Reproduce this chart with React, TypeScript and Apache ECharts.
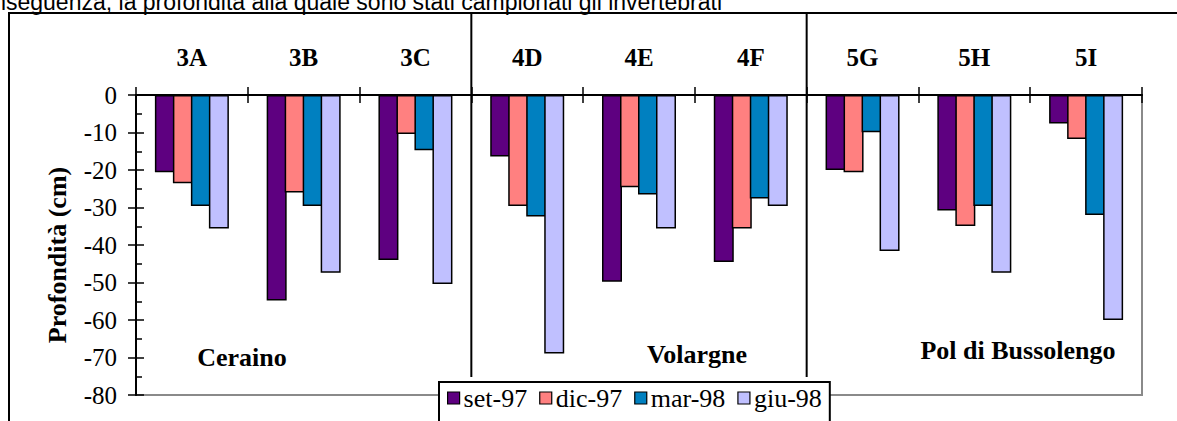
import React, { useEffect, useRef } from "react";
import * as echarts from "echarts";

const categories = ["3A", "3B", "3C", "4D", "4E", "4F", "5G", "5H", "5I"];
const seriesNames = ["set-97", "dic-97", "mar-98", "giu-98"];
const set97 = [-20.6, -54.8, -44.0, -16.4, -49.8, -44.5, -20.0, -30.8, -7.6];
const dic97 = [-23.5, -26.0, -10.4, -29.6, -24.6, -35.6, -20.6, -34.9, -11.7];
const mar98 = [-29.6, -29.6, -14.7, -32.4, -26.5, -27.6, -9.9, -29.6, -32.0];
const giu98 = [-35.6, -47.4, -50.4, -68.9, -35.6, -29.6, -41.6, -47.4, -60.0];
const colors = ["#5E0080", "#FF8080", "#0080C0", "#C0C0FF"];
const regionLabels = ["Ceraino", "Volargne", "Pol di Bussolengo"];
const yMin = -80;
const yMax = 0;
const yInterval = 10;
const axisName = "Profondità (cm)";
const topText = "conseguenza, la profondità alla quale sono stati campionati gli invertebrati";

const SERIF = '"Liberation Serif", "Times New Roman", serif';
const SANS = '"Liberation Sans", Arial, sans-serif';

export default function App() {
  const ref = useRef<HTMLDivElement>(null);
  useEffect(() => {
    if (!ref.current) return;
    const chart = echarts.init(ref.current, null, { renderer: "svg" });
    const values = [set97, dic97, mar98, giu98];
    chart.setOption({
      animation: false,
      grid: {
        left: 136,
        right: 35,
        top: 95,
        bottom: 26,
        show: true,
        borderColor: "#8a8a8a",
        borderWidth: 2,
        backgroundColor: "transparent",
      },
      xAxis: [
        {
          type: "category",
          data: categories,
          position: "top",
          axisLine: { onZero: false, lineStyle: { color: "#000", width: 2 } },
          axisTick: { show: true, inside: false, length: 8, lineStyle: { color: "#000", width: 1.5 } },
          axisLabel: {
            margin: 38,
            verticalAlign: "middle",
            color: "#000",
            fontFamily: SERIF,
            fontWeight: "bold",
            fontSize: 25,
          },
          splitLine: { show: false },
        },
        {
          type: "category",
          data: categories,
          position: "top",
          axisLine: { show: false, onZero: false },
          axisTick: { show: true, inside: true, length: 8, lineStyle: { color: "#000", width: 1.5 } },
          axisLabel: { show: false },
          splitLine: { show: false },
        },
      ],
      yAxis: [
        {
          type: "value",
          min: yMin,
          max: yMax,
          interval: yInterval,
          position: "left",
          axisLine: { show: true, onZero: false, lineStyle: { color: "#000", width: 2 } },
          axisTick: { show: true, inside: false, length: 8, lineStyle: { color: "#000", width: 1.5 } },
          axisLabel: {
            margin: 19,
            color: "#000",
            fontFamily: SERIF,
            fontSize: 25,
            verticalAlign: "middle",
          },
          splitLine: { show: false },
        },
        {
          type: "value",
          min: yMin,
          max: yMax,
          interval: yInterval,
          position: "left",
          axisLine: { show: false, onZero: false },
          axisTick: { show: true, inside: true, length: 8, lineStyle: { color: "#000", width: 1.5 } },
          minorTick: { show: true, splitNumber: 2, length: 6, lineStyle: { color: "#000", width: 1.5 } },
          axisLabel: { show: false },
          splitLine: { show: false },
        },
      ],
      legend: {
        data: seriesNames,
        left: 439,
        top: 382,
        orient: "horizontal",
        padding: [3, 8, 14, 8],
        itemGap: 12,
        itemWidth: 12,
        itemHeight: 12,
        icon: "rect",
        backgroundColor: "#fff",
        borderColor: "#000",
        borderWidth: 2,
        itemStyle: { borderColor: "#000", borderWidth: 1.2 },
        textStyle: { color: "#000", fontFamily: SERIF, fontSize: 26, padding: [0, 0, 0, -1] },
      },
      series: seriesNames.map((name, i) => ({
        name,
        type: "bar",
        xAxisIndex: 0,
        yAxisIndex: 0,
        data: values[i],
        barWidth: 20,
        barGap: "-10%",
        itemStyle: { color: colors[i], borderColor: "#000", borderWidth: 1.5 },
      })),
    });

    const px = (i: number) => chart.convertToPixel({ xAxisIndex: 0 }, categories[i]) as number;
    const sep1 = (px(2) + px(3)) / 2;
    const sep2 = (px(5) + px(6)) / 2;

    const label = (text: string, x: number, y: number) => ({
      type: "text",
      x,
      y,
      style: {
        text,
        fill: "#000",
        font: `bold 26px ${SERIF}`,
        textAlign: "center",
        textVerticalAlign: "middle",
      },
    });

    chart.setOption({
      graphic: [
        {
          type: "rect",
          z: 0,
          shape: { x: 9, y: 13, width: 1400, height: 800 },
          style: { fill: "none", stroke: "#000", lineWidth: 2 },
        },
        {
          type: "text",
          x: 722,
          y: 2,
          style: {
            text: topText,
            fill: "#000",
            font: `23px ${SANS}`,
            textAlign: "right",
            textVerticalAlign: "middle",
          },
        },
        {
          type: "line",
          shape: { x1: sep1, y1: 14, x2: sep1, y2: 377 },
          style: { stroke: "#000", lineWidth: 2 },
        },
        {
          type: "line",
          shape: { x1: sep2, y1: 14, x2: sep2, y2: 377 },
          style: { stroke: "#000", lineWidth: 2 },
        },
        {
          type: "text",
          x: 57,
          y: 255,
          rotation: Math.PI / 2,
          style: {
            text: axisName,
            fill: "#000",
            font: `bold 26px ${SERIF}`,
            textAlign: "center",
            textVerticalAlign: "middle",
          },
        },
        label(regionLabels[0], 242, 357),
        label(regionLabels[1], 697, 354),
        label(regionLabels[2], 1018, 350),
      ],
    });

    return () => chart.dispose();
  }, []);

  return (
    <div
      ref={ref}
      style={{ position: "absolute", left: 0, top: 0, width: 1177, height: 421, background: "#fff" }}
    />
  );
}
